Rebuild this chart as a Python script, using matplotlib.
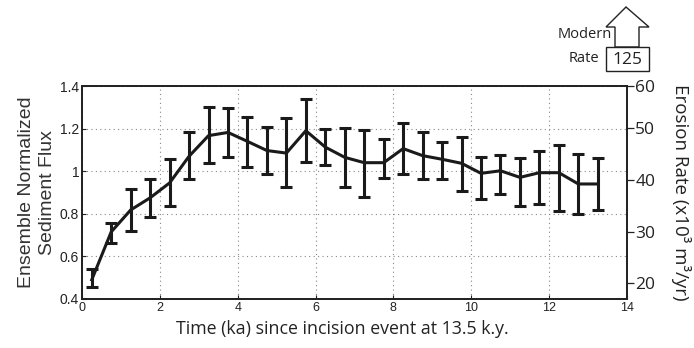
import matplotlib
matplotlib.use("Agg")
import matplotlib.pyplot as plt
from matplotlib.patches import Polygon, Rectangle
import numpy as np

# data
time_ka = [0.25, 0.75, 1.25, 1.75, 2.25, 2.75, 3.25, 3.75, 4.25, 4.75, 5.25, 5.75, 6.25, 6.75,
           7.25, 7.75, 8.25, 8.75, 9.25, 9.75, 10.25, 10.75, 11.25, 11.75, 12.25, 12.75, 13.25]
flux = [0.49, 0.715, 0.818, 0.875, 0.945, 1.07, 1.167, 1.182, 1.14, 1.097, 1.085, 1.19, 1.113, 1.065,
        1.04, 1.04, 1.106, 1.073, 1.056, 1.037, 0.99, 1.002, 0.971, 0.993, 0.993, 0.94, 0.94]
flux_top = [0.541, 0.758, 0.915, 0.965, 1.057, 1.183, 1.30, 1.295, 1.254, 1.209, 1.248, 1.34, 1.197, 1.204,
            1.193, 1.15, 1.228, 1.183, 1.136, 1.162, 1.065, 1.076, 1.064, 1.096, 1.124, 1.081, 1.062]
flux_bot = [0.456, 0.664, 0.721, 0.784, 0.837, 0.963, 1.037, 1.068, 1.021, 0.985, 0.924, 1.045, 1.029, 0.927,
            0.88, 0.967, 0.987, 0.965, 0.965, 0.907, 0.869, 0.892, 0.838, 0.845, 0.812, 0.799, 0.816]

x_ticks = [0, 2, 4, 6, 8, 10, 12, 14]
y_ticks = [0.4, 0.6, 0.8, 1.0, 1.2, 1.4]
y_labels = ["0.4", "0.6", "0.8", "1", "1.2", "1.4"]
rate_ticks = [20, 30, 40, 50, 58.2]
rate_labels = ["20", "30", "40", "50", "60"]

W, H = 694, 348
fig = plt.figure(figsize=(W / 100, H / 100), dpi=100)
ax = fig.add_axes([82 / W, 1 - 299 / H, (627 - 82) / W, (299 - 86) / H])

flux = np.array(flux)
yerr = [flux - np.array(flux_bot), np.array(flux_top) - flux]
ax.errorbar(time_ka, flux, yerr=yerr, color="#1a1a1a", lw=2.2, elinewidth=2.2,
            capsize=4.5, capthick=2.2)

ax.set_xlim(0, 14)
ax.set_ylim(0.4, 1.4)
ax.set_xticks(x_ticks)
ax.set_xticklabels([str(t) for t in x_ticks], fontsize=9, family="Liberation Sans")
ax.set_yticks(y_ticks)
ax.set_yticklabels(y_labels, fontsize=10, family="Liberation Sans")
ax.tick_params(direction="in", length=3, width=0.8, colors="#222222", pad=2)
ax.grid(True, linestyle=(0, (1, 3)), color="#888888", lw=0.8)
for s in ax.spines.values():
    s.set_linewidth(1.3)
    s.set_color("#222222")

ax.set_xlabel("Time (ka) since incision event at 13.5 k.y.", fontsize=12.8,
              family="Open Sans", color="#222222", labelpad=5)
ax.xaxis.set_label_coords(0.477, -0.1)
ax.xaxis.label.set_va("top")
ax.set_ylabel("Ensemble Normalized\nSediment Flux", fontsize=14,
              family="Liberation Sans", color="#333333", linespacing=1.3, labelpad=3)

ax2 = ax.twinx()
ax2.set_ylim(16.96, 58.2)
ax2.set_yticks(rate_ticks)
ax2.set_yticklabels(rate_labels, fontsize=12.5, family="Open Sans", color="#222222")
ax2.tick_params(direction="out", length=5, width=0.9, colors="#222222", pad=1)
ax2.set_ylabel("Erosion Rate (x10³ m³/yr)", fontsize=13.5, family="Open Sans",
               color="#222222", rotation=270, va="bottom", labelpad=11)
for s in ax2.spines.values():
    s.set_linewidth(1.3)
    s.set_color("#222222")


def px(x, y):
    return (x / W, 1 - y / H)


# "Modern Rate" arrow annotation
arrow = [px(615, 47), px(615, 27), px(606, 27), px(626, 7),
         px(649, 27), px(639, 27), px(639, 47)]
fig.patches.append(Polygon(arrow, closed=True, fill=False, edgecolor="#222222",
                           lw=1.0, transform=fig.transFigure))
fig.patches.append(Rectangle(px(606, 71), 43 / W, 24 / H, fill=False,
                             edgecolor="#222222", lw=1.0, transform=fig.transFigure))
fig.text(*px(627.5, 59.5), "125", fontsize=12.5, family="Open Sans", ha="center",
         va="center", color="#222222")
fig.text(*px(612, 35), "Modern", fontsize=10.5, family="Open Sans", ha="right",
         va="center", color="#222222")
fig.text(*px(599, 58), "Rate", fontsize=10.5, family="Open Sans", ha="right",
         va="center", color="#222222")

fig.savefig("out.png", dpi=100)
